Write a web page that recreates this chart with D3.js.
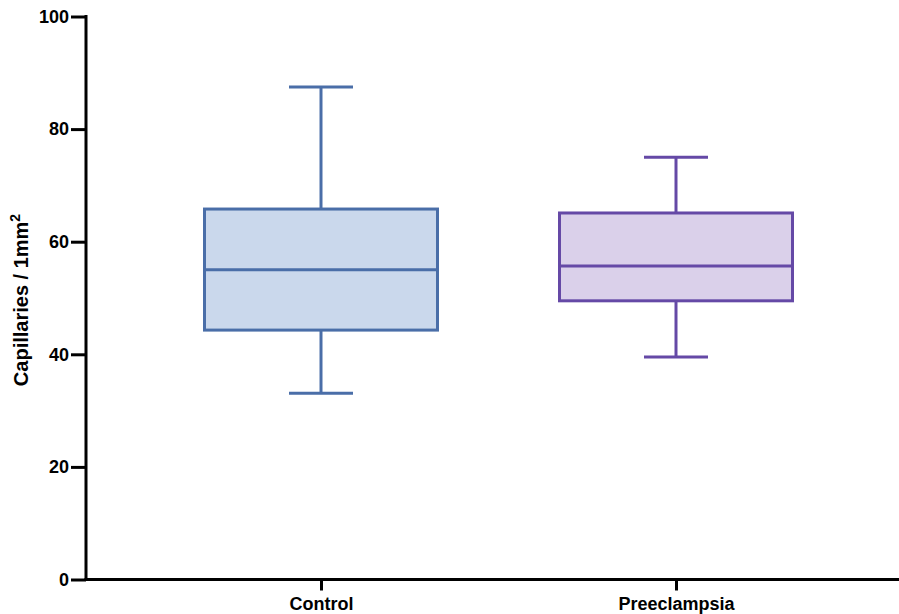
<!DOCTYPE html>
<html>
<head>
<meta charset="utf-8">
<script src="https://cdn.jsdelivr.net/npm/d3@7/dist/d3.min.js"></script>
<style>
  html, body { margin: 0; padding: 0; background: #fff; }
  svg { display: block; }
  text { font-family: "Liberation Sans", Arial, sans-serif; font-weight: bold; fill: #000; }
</style>
</head>
<body>
<svg id="chart" width="899" height="614"></svg>
<script>
const categories = ["Control", "Preeclampsia"];
const whiskerLow = [33.1, 39.5];
const q1 = [44.3, 49.5];
const median = [55.0, 55.7];
const q3 = [65.8, 65.1];
const whiskerHigh = [87.5, 75.0];
const yTicks = [0, 20, 40, 60, 80, 100];
const strokeColors = ["#4a6ea8", "#6549a6"];
const fillColors = ["#cad8ec", "#dad0ea"];

const svg = d3.select("#chart");
const axisX = 86, axisRight = 899;
const y = d3.scaleLinear().domain([0, 100]).range([579.5, 16.5]);
const x = d3.scalePoint().domain(categories).range([321, 676]);
const boxW = 233, capW = 64;

const data = categories.map((c, i) => ({
  c, lo: whiskerLow[i], q1: q1[i], med: median[i], q3: q3[i], hi: whiskerHigh[i],
  stroke: strokeColors[i], fill: fillColors[i]
}));

const g = svg.append("g");
data.forEach(d => {
  const cx = x(d.c);
  const gg = g.append("g").attr("stroke", d.stroke).attr("stroke-width", 3).attr("fill", "none");
  gg.append("line").attr("x1", cx).attr("x2", cx).attr("y1", y(d.hi)).attr("y2", y(d.q3));
  gg.append("line").attr("x1", cx).attr("x2", cx).attr("y1", y(d.q1)).attr("y2", y(d.lo));
  gg.append("line").attr("x1", cx - capW / 2).attr("x2", cx + capW / 2).attr("y1", y(d.hi)).attr("y2", y(d.hi));
  gg.append("line").attr("x1", cx - capW / 2).attr("x2", cx + capW / 2).attr("y1", y(d.lo)).attr("y2", y(d.lo));
  gg.append("rect").attr("x", cx - boxW / 2).attr("width", boxW)
    .attr("y", y(d.q3)).attr("height", y(d.q1) - y(d.q3)).attr("fill", d.fill);
  gg.append("line").attr("x1", cx - boxW / 2).attr("x2", cx + boxW / 2).attr("y1", y(d.med)).attr("y2", y(d.med));
});

// Y axis
const yAxis = d3.axisLeft(y).tickValues(yTicks).tickSize(15).tickPadding(2).tickFormat(d3.format("d"));
const ya = svg.append("g").attr("transform", `translate(${axisX},0)`).call(yAxis);
ya.select(".domain").remove();
ya.selectAll(".tick line").attr("stroke", "#000").attr("stroke-width", 3);
ya.selectAll(".tick text").attr("font-size", 18).attr("font-weight", "bold")
  .attr("font-family", "Liberation Sans, Arial, sans-serif").attr("fill", "#000");
svg.append("line").attr("x1", axisX).attr("x2", axisX).attr("y1", y(100) - 1.5).attr("y2", y(0) + 1.5)
  .attr("stroke", "#000").attr("stroke-width", 3);

// X axis
const xAxis = d3.axisBottom(x).tickSize(11).tickPadding(7);
const xa = svg.append("g").attr("transform", `translate(0,${y(0)})`).call(xAxis);
xa.select(".domain").remove();
xa.selectAll(".tick line").attr("stroke", "#000").attr("stroke-width", 3);
xa.selectAll(".tick text").attr("font-size", 18).attr("font-weight", "bold")
  .attr("font-family", "Liberation Sans, Arial, sans-serif").attr("fill", "#000");
svg.append("line").attr("x1", axisX - 1.5).attr("x2", axisRight).attr("y1", y(0)).attr("y2", y(0))
  .attr("stroke", "#000").attr("stroke-width", 3);

// Y label
const yl = svg.append("text")
  .attr("transform", `translate(28,${(y(0) + y(100)) / 2 + 2}) rotate(-90)`)
  .attr("text-anchor", "middle").attr("font-size", 20);
yl.append("tspan").text("Capillaries / 1mm");
yl.append("tspan").attr("dy", -8).attr("font-size", 14).text("2");
</script>
</body>
</html>
